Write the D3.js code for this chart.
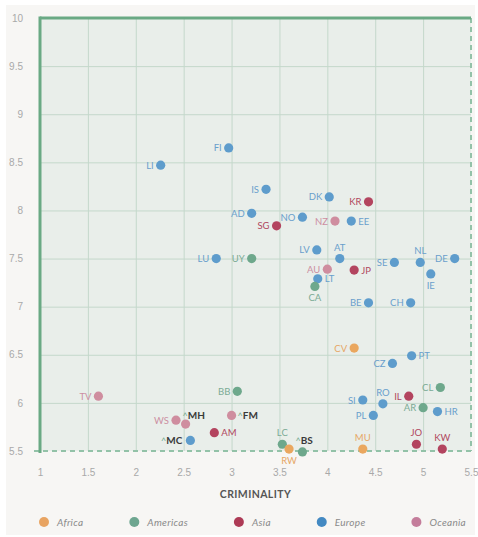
<!DOCTYPE html>
<html><head><meta charset="utf-8">
<script src="https://cdn.jsdelivr.net/npm/d3@7"></script>
<style>
html,body{margin:0;padding:0;background:#fff;}
svg{display:block;font-family:Lato,"Open Sans",sans-serif;}
</style></head>
<body>
<svg id="chart" width="478" height="537"></svg>
<script>
const regions = ["Africa","Americas","Asia","Europe","Oceania"];
const regionColors = ["#e8a462","#6ea690","#ad3a55","#4389c2","#c47d9b"];
const pointColors = ["#eaa75f","#6ea88c","#b3445f","#5e9ccc","#cf8d9f"];
const labelColors = ["#e6a766","#7bab95","#b0475e","#6a9fcc","#cc8ea2"];

const codes   = ["LI","FI","IS","DK","KR","AD","NO","SG","NZ","EE","LV","AT","LU","UY","AU","JP","LT","CA","SE","NL","DE","IE","BE","CH","CV","PT","CZ","CL","IL","SI","RO","AR","HR","PL","MU","JO","KW","TV","BB","WS","MH","FM","AM","MC","LC","RW","BS"];
const region  = ["Europe","Europe","Europe","Europe","Asia","Europe","Europe","Asia","Oceania","Europe","Europe","Europe","Europe","Americas","Oceania","Asia","Europe","Americas","Europe","Europe","Europe","Europe","Europe","Europe","Africa","Europe","Europe","Americas","Asia","Europe","Europe","Americas","Europe","Europe","Africa","Asia","Asia","Oceania","Americas","Oceania","Oceania","Oceania","Asia","Europe","Americas","Africa","Americas"];
const criminality = [2.26,2.97,3.36,4.02,4.43,3.21,3.74,3.47,4.08,4.25,3.89,4.13,2.84,3.21,4.00,4.28,3.90,3.87,4.70,4.97,5.33,5.08,4.43,4.87,4.28,4.88,4.68,5.18,4.85,4.37,4.58,5.00,5.15,4.48,4.37,4.93,5.20,1.61,3.06,2.42,2.52,3.00,2.82,2.57,3.53,3.60,3.74];
const resilience  = [8.47,8.65,8.22,8.14,8.09,7.97,7.93,7.84,7.89,7.89,7.59,7.50,7.50,7.50,7.39,7.38,7.29,7.21,7.46,7.46,7.50,7.34,7.04,7.04,6.57,6.49,6.41,6.16,6.07,6.03,5.99,5.95,5.91,5.87,5.52,5.57,5.52,6.07,6.12,5.82,5.78,5.87,5.69,5.61,5.57,5.52,5.49];
// label placement: l=left, r=right, t=top, b=bottom; caret = highlighted annotation
const labelPos = ["l","l","l","l","l","l","l","l","l","r","l","t","l","l","l","r","r","b","l","t","l","b","l","l","l","r","l","l","l","l","t","l","r","l","t","t","t","l","l","l","cr","cr2","r","cl","t","b","ct"];

const xTicks = [1,1.5,2,2.5,3,3.5,4,4.5,5,5.5];
const yTicks = [5.5,6,6.5,7,7.5,8,8.5,9,9.5,10];
const xTitle = "CRIMINALITY";

const svg = d3.select("#chart");
const W = 478, H = 537;
const m = {l:40, r:471, t:18, b:451};

svg.append("rect").attr("x",6).attr("y",5).attr("width",469).attr("height",530).attr("fill","#f7f6f4");

const x = d3.scaleLinear().domain([1,5.5]).range([m.l, m.r]);
const y = d3.scaleLinear().domain([5.5,10]).range([m.b, m.t]);
const color = d3.scaleOrdinal().domain(regions).range(pointColors);
const lcolor = d3.scaleOrdinal().domain(regions).range(labelColors);

svg.append("rect").attr("x",m.l).attr("y",m.t).attr("width",m.r-m.l).attr("height",m.b-m.t).attr("fill","#e9eeea");

// grid
const gx = svg.append("g").attr("transform",`translate(0,${m.b})`)
  .call(d3.axisBottom(x).tickValues(xTicks).tickSize(-(m.b-m.t)).tickFormat(d=>d));
gx.select(".domain").remove();
gx.selectAll(".tick line").attr("stroke","#c4d8cb").attr("stroke-width",1);
gx.selectAll(".tick text").attr("dy",0).attr("y",25).attr("fill","#a9a9a9").attr("font-size",10);
gx.selectAll(".tick").filter(d=>d===1||d===5.5).select("line").remove();

const gy = svg.append("g").attr("transform",`translate(${m.l},0)`)
  .call(d3.axisLeft(y).tickValues(yTicks).tickSize(-(m.r-m.l)).tickFormat(d=>d));
gy.select(".domain").remove();
gy.selectAll(".tick line").attr("stroke","#c4d8cb").attr("stroke-width",1);
gy.selectAll(".tick text").attr("x",-17).attr("fill","#a9a9a9").attr("font-size",10);
gy.selectAll(".tick").filter(d=>d===5.5||d===10).select("line").remove();

// frame
svg.append("line").attr("x1",34).attr("x2",m.r).attr("y1",m.b).attr("y2",m.b)
  .attr("stroke","#93c2a8").attr("stroke-width",2).attr("stroke-dasharray","5,4");
svg.append("line").attr("x1",m.r).attr("x2",m.r).attr("y1",m.t).attr("y2",m.b)
  .attr("stroke","#93c2a8").attr("stroke-width",2).attr("stroke-dasharray","5,4");
svg.append("line").attr("x1",m.l).attr("x2",m.r).attr("y1",m.t).attr("y2",m.t)
  .attr("stroke","#6aa984").attr("stroke-width",3);
svg.append("line").attr("x1",m.l).attr("x2",m.l).attr("y1",m.t-1.5).attr("y2",m.b+2)
  .attr("stroke","#6aa984").attr("stroke-width",3);

const data = codes.map((c,i)=>({code:c, region:region[i], x:criminality[i], y:resilience[i], pos:labelPos[i]}));

const pts = svg.append("g");
pts.selectAll("circle").data(data).join("circle")
  .attr("cx",d=>x(d.x)).attr("cy",d=>y(d.y)).attr("r",4.6)
  .attr("fill",d=>color(d.region));

const lab = svg.append("g").attr("font-size",9.5);
data.forEach(d=>{
  const cx = x(d.x), cy = y(d.y);
  const t = lab.append("text");
  if (d.pos.startsWith("c")) {
    t.append("tspan").attr("fill","#6ea88c").attr("font-size",9).text("^");
    t.append("tspan").attr("fill","#3a3a3a").attr("font-weight","bold").attr("font-size",10).text(d.code);
    if (d.pos==="cr") { t.attr("x",cx-3).attr("y",cy-5); }
    else if (d.pos==="cr2") { t.attr("x",cx+6).attr("y",cy+4); }
    else if (d.pos==="cl") { t.attr("x",cx-8).attr("y",cy+4).attr("text-anchor","end"); }
    else if (d.pos==="ct") { t.attr("x",cx-7).attr("y",cy-8); }
    return;
  }
  t.attr("fill",lcolor(d.region)).text(d.code);
  if (d.pos==="l") t.attr("x",cx-7).attr("y",cy+3.5).attr("text-anchor","end");
  if (d.pos==="r") t.attr("x",cx+7).attr("y",cy+3.5);
  if (d.pos==="t") t.attr("x",cx).attr("y",cy-8).attr("text-anchor","middle");
  if (d.pos==="b") t.attr("x",cx).attr("y",cy+15).attr("text-anchor","middle");
});

svg.append("text").attr("x",(m.l+m.r)/2).attr("y",498).attr("text-anchor","middle")
  .attr("font-size",10.5).attr("font-weight","bold").attr("fill","#555").attr("letter-spacing",0.4).text(xTitle);

// legend: spread items between left and right edges
const lg = svg.append("g");
const items = regions.map((r,i)=>{
  const g = lg.append("g");
  g.append("circle").attr("r",5).attr("cx",5).attr("cy",0).attr("fill",regionColors[i]);
  const tx = g.append("text").attr("x",18).attr("y",4).attr("font-size",10).attr("font-style","italic")
    .attr("fill","#8a8a8a").attr("letter-spacing",0.3).text(r);
  return {g, w: 18 + tx.node().getComputedTextLength()};
});
const L0 = 39, L1 = 466;
const total = d3.sum(items, d=>d.w);
const gap = (L1-L0-total)/(items.length-1);
let cur = L0;
items.forEach(it=>{ it.g.attr("transform",`translate(${cur},522)`); cur += it.w + gap; });
</script>
</body></html>
